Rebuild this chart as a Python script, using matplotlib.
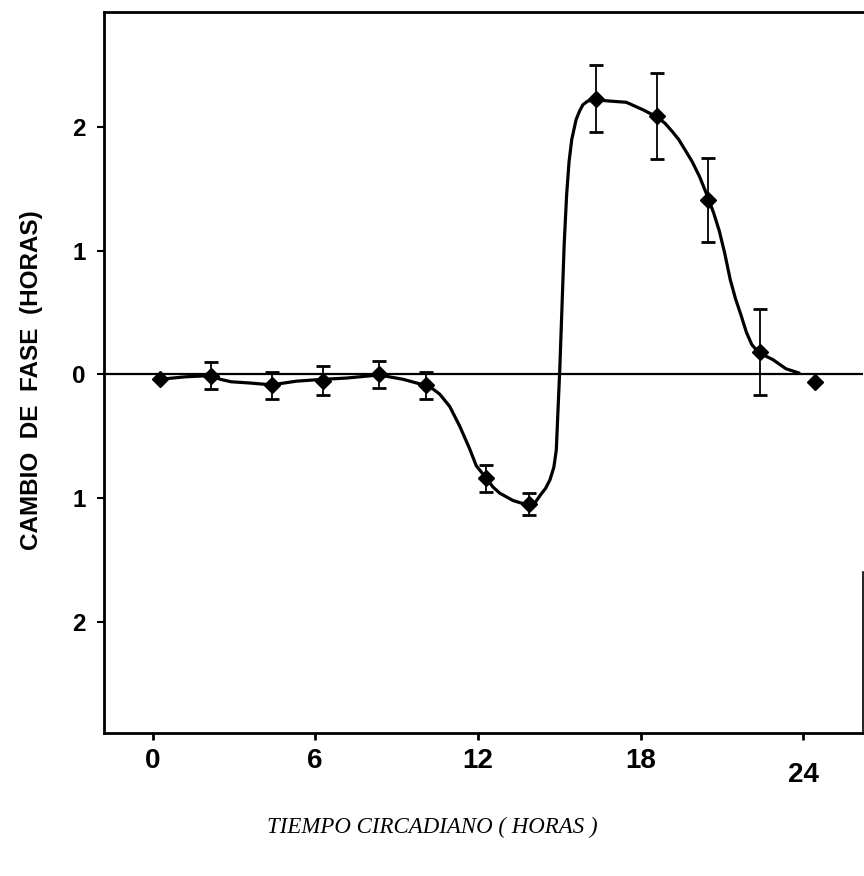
import matplotlib
matplotlib.use("Agg")
import matplotlib.pyplot as plt
import numpy as np

# ---- data ----
point_t = [0.28, 2.14, 4.39, 6.29, 8.35, 10.07, 12.31, 13.88, 16.34, 18.61, 20.50, 22.40, 24.44]
point_v = [-0.04, -0.01, -0.09, -0.05, 0.00, -0.09, -0.84, -1.05, 2.23, 2.09, 1.41, 0.18, -0.06]
point_err = [0.0, 0.11, 0.11, 0.12, 0.11, 0.11, 0.11, 0.09, 0.27, 0.35, 0.34, 0.35, 0.0]

curve_t = [0.28, 1.2, 2.14, 2.5, 2.9, 3.59, 4.39, 5.31, 6.29, 7.15, 8.35, 9.24, 10.07,
           10.35, 10.59, 10.96, 11.33, 11.69, 11.94, 12.31, 12.55, 12.80, 13.29, 13.88,
           14.10, 14.29, 14.50, 14.66, 14.80, 14.89, 14.96, 15.02, 15.10, 15.18, 15.27,
           15.36, 15.46, 15.62, 15.75, 15.87, 16.05, 16.34, 16.85, 17.47, 18.08, 18.61,
           18.90, 19.18, 19.40, 19.68, 19.90, 20.17, 20.30, 20.50, 20.70, 20.90, 21.10,
           21.30, 21.50, 21.70, 21.90, 22.10, 22.30, 22.50, 22.87, 23.36, 23.85]
curve_v = [-0.04, -0.02, -0.01, -0.04, -0.06, -0.07, -0.085, -0.055, -0.04, -0.03, -0.005, -0.04, -0.09,
           -0.12, -0.16, -0.26, -0.42, -0.60, -0.74, -0.84, -0.91, -0.96, -1.02, -1.06,
           -1.04, -0.98, -0.92, -0.85, -0.75, -0.61, -0.25, 0.05, 0.55, 1.05, 1.45,
           1.72, 1.90, 2.06, 2.13, 2.18, 2.21, 2.22, 2.21, 2.20, 2.14, 2.08,
           2.03, 1.96, 1.90, 1.80, 1.72, 1.60, 1.53, 1.42, 1.30, 1.16, 0.98,
           0.77, 0.61, 0.48, 0.34, 0.24, 0.19, 0.16, 0.12, 0.045, 0.01]

x_ticks = [0, 6, 12, 18, 24]
x_ticklabels = ["0", "6", "12", "18", "24"]
y_ticks = [2, 1, 0, -1, -2]
y_ticklabels = ["2", "1", "0", "1", "2"]

# ---- figure ----
fig = plt.figure(figsize=(8.64, 8.76), dpi=100)
ax = fig.add_axes([104/864, 1-733/876, (863-104)/864, (733-12)/876])

ax.axhline(0, color="black", lw=1.6, zorder=2)
ax.plot(curve_t, curve_v, color="black", lw=2.3, zorder=3,
        solid_capstyle="round", solid_joinstyle="round")

pt = np.array(point_t); pv = np.array(point_v); pe = np.array(point_err)
m = pe > 0
ax.errorbar(pt[m], pv[m], yerr=pe[m], fmt="none", ecolor="black",
            elinewidth=1.3, capsize=5, capthick=2.0, zorder=4)
ax.plot(pt, pv, linestyle="none", marker="D", markersize=8.5,
        color="black", zorder=5)

ax.set_xlim(-1.79, 26.2)
ax.set_ylim(-2.90, 2.93)

ax.set_xticks(x_ticks)
ax.set_xticklabels(x_ticklabels)
ax.set_yticks(y_ticks)
ax.set_yticklabels(y_ticklabels)

for lab in ax.get_xticklabels() + ax.get_yticklabels():
    lab.set_fontfamily("Liberation Sans")
    lab.set_fontweight("bold")
for lab in ax.get_xticklabels():
    lab.set_fontsize(20)
for lab in ax.get_yticklabels():
    lab.set_fontsize(17.5)

ax.tick_params(axis="x", direction="out", length=5, width=2, pad=6)
ax.tick_params(axis="y", direction="out", length=5, width=1.5, pad=8)
ax.xaxis.get_major_ticks()[-1].set_pad(16)

for s in ["left", "bottom", "top"]:
    ax.spines[s].set_linewidth(2.0)
ax.spines["right"].set_linewidth(1.2)
ax.spines["right"].set_bounds(-2.90, -1.6)

fig.text(0.036, 1-380/876, "CAMBIO  DE  FASE  (HORAS)", rotation=90,
         ha="center", va="center", fontsize=17.5, fontweight="bold",
         family="Liberation Sans")
fig.text(432/864, 1-827/876, "TIEMPO CIRCADIANO ( HORAS )", ha="center", va="center",
         fontsize=16.5, style="italic", family="Liberation Serif")

fig.savefig("out.png", dpi=100, facecolor="white")
